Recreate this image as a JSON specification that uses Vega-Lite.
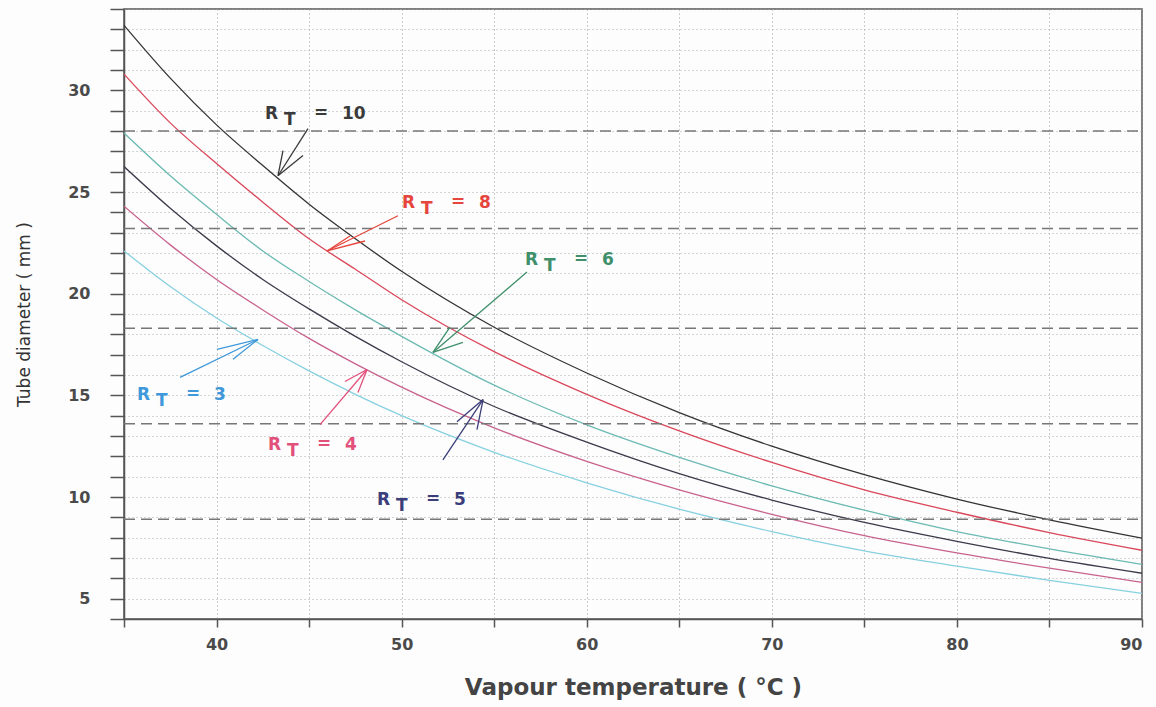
{
  "$schema": "https://vega.github.io/schema/vega-lite/v6.json",
  "autosize": {"type": "none"},
  "width": 1018,
  "height": 610,
  "padding": {"left": 124, "top": 9, "right": 14, "bottom": 88},
  "background": "#fdfdfd",
  "config": {
    "view": {"stroke": "#555555", "strokeWidth": 1.5},
    "font": "DejaVu Sans"
  },
  "datasets": {
    "curves": [
      {"rt": "10", "x": 35, "y": 33.2}, {"rt": "10", "x": 37.5, "y": 30.6}, {"rt": "10", "x": 40, "y": 28.3}, {"rt": "10", "x": 42.5, "y": 26.3}, {"rt": "10", "x": 45, "y": 24.4}, {"rt": "10", "x": 47.5, "y": 22.7}, {"rt": "10", "x": 50, "y": 21.1}, {"rt": "10", "x": 55, "y": 18.35}, {"rt": "10", "x": 60, "y": 16.1}, {"rt": "10", "x": 65, "y": 14.15}, {"rt": "10", "x": 70, "y": 12.5}, {"rt": "10", "x": 75, "y": 11.1}, {"rt": "10", "x": 80, "y": 9.9}, {"rt": "10", "x": 85, "y": 8.88}, {"rt": "10", "x": 90, "y": 7.98},
      {"rt": "8", "x": 35, "y": 30.8}, {"rt": "8", "x": 37.5, "y": 28.4}, {"rt": "8", "x": 40, "y": 26.4}, {"rt": "8", "x": 42.5, "y": 24.5}, {"rt": "8", "x": 45, "y": 22.7}, {"rt": "8", "x": 47.5, "y": 21.2}, {"rt": "8", "x": 50, "y": 19.7}, {"rt": "8", "x": 55, "y": 17.15}, {"rt": "8", "x": 60, "y": 15.05}, {"rt": "8", "x": 65, "y": 13.25}, {"rt": "8", "x": 70, "y": 11.7}, {"rt": "8", "x": 75, "y": 10.35}, {"rt": "8", "x": 80, "y": 9.25}, {"rt": "8", "x": 85, "y": 8.25}, {"rt": "8", "x": 90, "y": 7.38},
      {"rt": "6", "x": 35, "y": 27.9}, {"rt": "6", "x": 37.5, "y": 25.8}, {"rt": "6", "x": 40, "y": 23.9}, {"rt": "6", "x": 42.5, "y": 22.1}, {"rt": "6", "x": 45, "y": 20.6}, {"rt": "6", "x": 47.5, "y": 19.2}, {"rt": "6", "x": 50, "y": 17.9}, {"rt": "6", "x": 55, "y": 15.5}, {"rt": "6", "x": 60, "y": 13.55}, {"rt": "6", "x": 65, "y": 11.95}, {"rt": "6", "x": 70, "y": 10.55}, {"rt": "6", "x": 75, "y": 9.35}, {"rt": "6", "x": 80, "y": 8.3}, {"rt": "6", "x": 85, "y": 7.45}, {"rt": "6", "x": 90, "y": 6.69},
      {"rt": "5", "x": 35, "y": 26.25}, {"rt": "5", "x": 37.5, "y": 24.2}, {"rt": "5", "x": 40, "y": 22.35}, {"rt": "5", "x": 42.5, "y": 20.7}, {"rt": "5", "x": 45, "y": 19.25}, {"rt": "5", "x": 47.5, "y": 17.9}, {"rt": "5", "x": 50, "y": 16.65}, {"rt": "5", "x": 55, "y": 14.45}, {"rt": "5", "x": 60, "y": 12.7}, {"rt": "5", "x": 65, "y": 11.15}, {"rt": "5", "x": 70, "y": 9.85}, {"rt": "5", "x": 75, "y": 8.75}, {"rt": "5", "x": 80, "y": 7.82}, {"rt": "5", "x": 85, "y": 6.98}, {"rt": "5", "x": 90, "y": 6.25},
      {"rt": "4", "x": 35, "y": 24.3}, {"rt": "4", "x": 37.5, "y": 22.4}, {"rt": "4", "x": 40, "y": 20.7}, {"rt": "4", "x": 42.5, "y": 19.2}, {"rt": "4", "x": 45, "y": 17.8}, {"rt": "4", "x": 47.5, "y": 16.55}, {"rt": "4", "x": 50, "y": 15.4}, {"rt": "4", "x": 55, "y": 13.4}, {"rt": "4", "x": 60, "y": 11.75}, {"rt": "4", "x": 65, "y": 10.35}, {"rt": "4", "x": 70, "y": 9.15}, {"rt": "4", "x": 75, "y": 8.1}, {"rt": "4", "x": 80, "y": 7.25}, {"rt": "4", "x": 85, "y": 6.5}, {"rt": "4", "x": 90, "y": 5.8},
      {"rt": "3", "x": 35, "y": 22.1}, {"rt": "3", "x": 37.5, "y": 20.35}, {"rt": "3", "x": 40, "y": 18.8}, {"rt": "3", "x": 42.5, "y": 17.45}, {"rt": "3", "x": 45, "y": 16.2}, {"rt": "3", "x": 47.5, "y": 15.05}, {"rt": "3", "x": 50, "y": 14.0}, {"rt": "3", "x": 55, "y": 12.2}, {"rt": "3", "x": 60, "y": 10.7}, {"rt": "3", "x": 65, "y": 9.4}, {"rt": "3", "x": 70, "y": 8.3}, {"rt": "3", "x": 75, "y": 7.35}, {"rt": "3", "x": 80, "y": 6.6}, {"rt": "3", "x": 85, "y": 5.9}, {"rt": "3", "x": 90, "y": 5.26}
    ],
    "levels": [
      {"y": 28.0, "x": 35, "x2": 90},
      {"y": 23.2, "x": 35, "x2": 90},
      {"y": 18.3, "x": 35, "x2": 90},
      {"y": 13.6, "x": 35, "x2": 90},
      {"y": 8.9, "x": 35, "x2": 90}
    ],
    "arrows": [
      {"rt": "10", "x": 44.94, "y": 28.12, "x2": 43.32, "y2": 25.8},
      {"rt": "10", "x": 43.59, "y": 27.04, "x2": 43.32, "y2": 25.8},
      {"rt": "10", "x": 44.67, "y": 26.79, "x2": 43.32, "y2": 25.8},
      {"rt": "8", "x": 49.8, "y": 23.83, "x2": 45.97, "y2": 22.1},
      {"rt": "8", "x": 47.21, "y": 22.84, "x2": 45.97, "y2": 22.1},
      {"rt": "8", "x": 48.02, "y": 22.59, "x2": 45.97, "y2": 22.1},
      {"rt": "6", "x": 56.77, "y": 21.06, "x2": 51.69, "y2": 17.11},
      {"rt": "6", "x": 52.61, "y": 18.35, "x2": 51.69, "y2": 17.11},
      {"rt": "6", "x": 53.31, "y": 17.6, "x2": 51.69, "y2": 17.11},
      {"rt": "3", "x": 38.03, "y": 15.88, "x2": 42.24, "y2": 17.75},
      {"rt": "3", "x": 40.02, "y": 17.26, "x2": 42.24, "y2": 17.75},
      {"rt": "3", "x": 40.89, "y": 16.77, "x2": 42.24, "y2": 17.75},
      {"rt": "4", "x": 45.59, "y": 13.56, "x2": 48.13, "y2": 16.27},
      {"rt": "4", "x": 47.64, "y": 15.14, "x2": 48.13, "y2": 16.27},
      {"rt": "4", "x": 46.94, "y": 15.68, "x2": 48.13, "y2": 16.27},
      {"rt": "5", "x": 52.23, "y": 11.83, "x2": 54.4, "y2": 14.79},
      {"rt": "5", "x": 52.99, "y": 13.7, "x2": 54.4, "y2": 14.79},
      {"rt": "5", "x": 54.07, "y": 13.31, "x2": 54.4, "y2": 14.79}
    ],
    "labels": [
      {"rt": "10", "x": 42.62, "y": 28.57, "n": "10"},
      {"rt": "8", "x": 50.02, "y": 24.22, "n": "8"},
      {"rt": "6", "x": 56.66, "y": 21.41, "n": "6"},
      {"rt": "3", "x": 35.7, "y": 14.79, "n": "3"},
      {"rt": "4", "x": 42.78, "y": 12.32, "n": "4"},
      {"rt": "5", "x": 48.67, "y": 9.6, "n": "5"}
    ]
  },
  "encoding": {
    "x": {
      "field": "x", "type": "quantitative",
      "scale": {"domain": [35, 90], "nice": false, "zero": false},
      "axis": {
        "values": [35, 40, 45, 50, 55, 60, 65, 70, 75, 80, 85, 90],
        "labelExpr": "datum.value % 10 === 0 ? datum.label : ''",
        "tickSize": 8, "tickColor": "#555555", "tickWidth": 1.5,
        "domainColor": "#555555", "domainWidth": 1.5,
        "grid": true, "gridDash": [1, 3], "gridColor": "#999999", "gridWidth": 1,
        "labelFont": "DejaVu Sans", "labelFontSize": 16, "labelFontWeight": "bold", "labelColor": "#4a4a4a", "labelPadding": 9,
        "title": "Vapour temperature ( °C )",
        "titleFont": "DejaVu Sans", "titleFontSize": 23, "titleFontWeight": "bold", "titleColor": "#444444",
        "titleX": 509, "titleY": 57, "titleAnchor": "middle"
      }
    },
    "y": {
      "field": "y", "type": "quantitative",
      "scale": {"domain": [4, 34], "nice": false, "zero": false},
      "axis": {
        "values": [4, 5, 6, 7, 8, 9, 10, 11, 12, 13, 14, 15, 16, 17, 18, 19, 20, 21, 22, 23, 24, 25, 26, 27, 28, 29, 30, 31, 32, 33, 34],
        "labelExpr": "datum.value % 5 === 0 ? datum.label : ''",
        "tickSize": 14, "tickColor": "#555555", "tickWidth": 1.5,
        "domainColor": "#555555", "domainWidth": 1.5,
        "grid": true, "gridDash": [1, 3], "gridColor": "#aaaaaa", "gridWidth": 1,
        "labelFont": "DejaVu Sans", "labelFontSize": 16, "labelFontWeight": "bold", "labelColor": "#4a4a4a", "labelPadding": 20,
        "title": "Tube diameter ( mm )",
        "titleFont": "DejaVu Sans", "titleFontSize": 17, "titleFontWeight": "normal", "titleColor": "#333333",
        "titleX": -100, "titleY": 305, "titleAngle": -90, "titleAlign": "center", "titleBaseline": "middle"
      }
    }
  },
  "layer": [
    {
      "data": {"name": "curves"},
      "mark": {"type": "line", "interpolate": "monotone", "strokeWidth": 1.3, "clip": true},
      "encoding": {
        "detail": {"field": "rt"},
        "color": {
          "field": "rt", "type": "nominal", "legend": null,
          "scale": {"domain": ["10", "8", "6", "5", "4", "3"], "range": ["#333333", "#d9475a", "#6cbab3", "#3a3a4a", "#c8628d", "#86d0e0"]}
        }
      }
    },
    {
      "data": {"name": "levels"},
      "mark": {"type": "rule", "strokeDash": [11, 6], "strokeWidth": 1.5, "color": "#777777"},
      "encoding": {"x2": {"field": "x2"}}
    },
    {
      "data": {"name": "arrows"},
      "mark": {"type": "rule", "strokeWidth": 1.3},
      "encoding": {
        "x2": {"field": "x2"}, "y2": {"field": "y2"},
        "color": {
          "field": "rt", "type": "nominal", "legend": null,
          "scale": {"domain": ["10", "8", "6", "5", "4", "3"], "range": ["#3a3a3a", "#e5453c", "#3f8f6b", "#3b3e7a", "#e2507c", "#3e98da"]}
        }
      }
    },
    {
      "data": {"name": "labels"},
      "mark": {"type": "text", "align": "left", "baseline": "alphabetic", "font": "DejaVu Sans", "fontSize": 17, "fontWeight": "bold"},
      "encoding": {
        "text": {"value": "R"},
        "color": {
          "field": "rt", "type": "nominal", "legend": null,
          "scale": {"domain": ["10", "8", "6", "5", "4", "3"], "range": ["#3a3a3a", "#e5453c", "#3f8f6b", "#3b3e7a", "#e2507c", "#3e98da"]}
        }
      }
    },
    {
      "data": {"name": "labels"},
      "mark": {"type": "text", "align": "left", "baseline": "alphabetic", "font": "DejaVu Sans", "fontSize": 17, "fontWeight": "bold", "dx": 19, "dy": 6},
      "encoding": {
        "text": {"value": "T"},
        "color": {
          "field": "rt", "type": "nominal", "legend": null,
          "scale": {"domain": ["10", "8", "6", "5", "4", "3"], "range": ["#3a3a3a", "#e5453c", "#3f8f6b", "#3b3e7a", "#e2507c", "#3e98da"]}
        }
      }
    },
    {
      "data": {"name": "labels"},
      "mark": {"type": "text", "align": "left", "baseline": "alphabetic", "font": "DejaVu Sans", "fontSize": 17, "fontWeight": "bold", "dx": 49, "dy": -1},
      "encoding": {
        "text": {"value": "="},
        "color": {
          "field": "rt", "type": "nominal", "legend": null,
          "scale": {"domain": ["10", "8", "6", "5", "4", "3"], "range": ["#3a3a3a", "#e5453c", "#3f8f6b", "#3b3e7a", "#e2507c", "#3e98da"]}
        }
      }
    },
    {
      "data": {"name": "labels"},
      "mark": {"type": "text", "align": "left", "baseline": "alphabetic", "font": "DejaVu Sans", "fontSize": 17, "fontWeight": "bold", "dx": 77},
      "encoding": {
        "text": {"field": "n"},
        "color": {
          "field": "rt", "type": "nominal", "legend": null,
          "scale": {"domain": ["10", "8", "6", "5", "4", "3"], "range": ["#3a3a3a", "#e5453c", "#3f8f6b", "#3b3e7a", "#e2507c", "#3e98da"]}
        }
      }
    }
  ],
  "resolve": {"scale": {"color": "independent"}}
}
